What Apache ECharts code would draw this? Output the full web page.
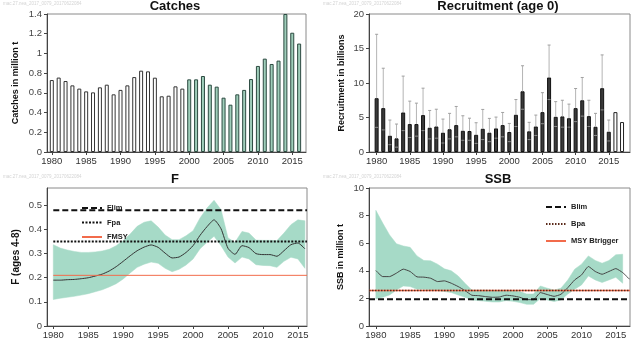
<!DOCTYPE html>
<html>
<head>
<meta charset="utf-8">
<script src="https://cdn.jsdelivr.net/npm/echarts@6/dist/echarts.min.js"></script>
<style>
  html, body { margin: 0; padding: 0; background: #fff; }
  #chart { width: 643px; height: 348px; }
</style>
</head>
<body>
<div id="chart"></div>
<script>
// ---- Stock summary data (NEA mackerel) ----
const FIRST_YEAR = 1980;

// Catches, million t, 1980-2016
const catches = [0.73, 0.755, 0.72, 0.676, 0.643, 0.615, 0.605, 0.656, 0.683, 0.585,
                 0.63, 0.676, 0.76, 0.825, 0.818, 0.754, 0.565, 0.571, 0.666, 0.643,
                 0.737, 0.737, 0.771, 0.683, 0.663, 0.551, 0.48, 0.585, 0.63, 0.74,
                 0.873, 0.947, 0.893, 0.927, 1.40, 1.21, 1.10];
const CATCH_HIGHLIGHT_FROM = 2000;

// Recruitment (age 0), billions, 1980-2017; last two years are assumed values
const recruitment = [7.8, 6.36, 2.36, 1.98, 5.73, 4.05, 4.05, 5.35, 3.52, 3.7,
                     2.8, 3.3, 3.9, 3.08, 3.04, 2.5, 3.37, 2.8, 3.42, 3.9,
                     2.9, 5.4, 8.8, 3.0, 3.7, 5.78, 10.8, 5.1, 5.16, 4.9,
                     6.36, 7.5, 5.2, 3.66, 9.25, 2.94, 5.78, 4.34];
const recruitmentHigh = [17.06, 12.14, 4.63, 4.05, 11.0, 7.37, 7.08, 9.25, 6.02, 6.2,
                         4.77, 5.6, 6.6, 5.25, 4.9, 4.24, 6.17, 4.87, 5.06, 5.73,
                         4.14, 7.6, 12.5, 4.3, 5.35, 8.6, 15.5, 7.3, 7.5, 6.94,
                         9.2, 10.8, 7.5, 5.6, 14.07, 4.63];
const recruitmentLow = [3.57, 3.2, 1.06, 0.7, 3.1, 2.1, 2.3, 3.1, 1.9, 2.0,
                        1.3, 1.9, 2.2, 1.7, 1.7, 1.25, 1.8, 1.5, 2.0, 2.2,
                        1.5, 3.7, 6.2, 1.8, 2.4, 4.1, 7.6, 3.7, 3.6, 3.6,
                        4.4, 5.2, 3.7, 2.4, 6.1, 1.6];
const RECRUIT_ASSUMED_FROM = 2016;

// Fishing mortality (ages 4-8), 1980-2016
const fishingMortality = [0.19, 0.19, 0.192, 0.193, 0.196, 0.2, 0.207, 0.215, 0.228, 0.246,
                          0.268, 0.291, 0.312, 0.327, 0.336, 0.326, 0.302, 0.282, 0.286, 0.305,
                          0.333, 0.376, 0.412, 0.44, 0.403, 0.322, 0.297, 0.333, 0.325, 0.3,
                          0.296, 0.296, 0.289, 0.312, 0.337, 0.344, 0.32];
const fishingMortalityHigh = [0.337, 0.323, 0.315, 0.309, 0.305, 0.305, 0.307, 0.311, 0.318, 0.333,
                              0.354, 0.381, 0.413, 0.43, 0.436, 0.41, 0.377, 0.358, 0.358, 0.374,
                              0.395, 0.448, 0.489, 0.521, 0.482, 0.365, 0.347, 0.392, 0.385, 0.356,
                              0.355, 0.355, 0.354, 0.385, 0.42, 0.44, 0.436];
const fishingMortalityLow = [0.11, 0.115, 0.119, 0.123, 0.128, 0.134, 0.142, 0.15, 0.162, 0.175,
                             0.195, 0.22, 0.243, 0.256, 0.265, 0.26, 0.239, 0.225, 0.235, 0.253,
                             0.278, 0.32, 0.347, 0.372, 0.333, 0.286, 0.261, 0.286, 0.278, 0.254,
                             0.251, 0.25, 0.243, 0.268, 0.285, 0.278, 0.239];

// Spawning stock biomass, million t, 1980-2017 (interval to 2016)
const ssb = [4.02, 3.58, 3.58, 3.83, 4.12, 3.95, 3.56, 3.54, 3.46, 3.22,
             3.27, 3.1, 2.86, 2.57, 2.23, 2.2, 2.13, 2.08, 2.1, 2.23,
             2.18, 2.08, 1.91, 1.91, 2.42, 2.28, 2.15, 2.3, 2.78, 3.34,
             3.7, 4.31, 3.95, 3.75, 3.95, 4.16, 3.87, 3.39];
const ssbHigh = [8.38, 7.46, 6.6, 5.96, 5.8, 5.7, 5.08, 4.75, 4.72, 4.48,
                 4.14, 4.0, 3.63, 3.1, 2.6, 2.6, 2.6, 2.57, 2.57, 2.6,
                 2.57, 2.5, 2.32, 2.32, 2.9, 2.74, 2.6, 2.74, 3.34, 4.12,
                 4.48, 5.08, 4.75, 4.55, 4.75, 5.16, 5.2];
const ssbLow = [1.96, 2.08, 2.25, 2.6, 2.9, 2.86, 2.66, 2.66, 2.6, 2.57,
                2.5, 2.42, 2.25, 2.08, 1.89, 1.84, 1.79, 1.74, 1.74, 1.84,
                1.79, 1.7, 1.57, 1.57, 2.0, 1.89, 1.77, 1.89, 2.32, 2.66,
                2.98, 3.63, 3.34, 3.15, 3.34, 3.53, 3.1];

// Reference points
const F_LIM = 0.48, F_PA = 0.35, F_MSY = 0.21;
const B_LIM = 1.94, B_PA = 2.57, MSY_BTRIGGER = 2.57;

// Axis extents (years)
const X_RANGE = {
  catches: [1979.3, 2017.0],
  recruit: [1978.85, 2018.2],
  f: [1979.1, 2016.3],
  ssb: [1979.0, 2017.07]
};

// ---- helpers ----
const FONT = 'Liberation Sans, Arial, sans-serif';
const BAND = '#a6dac7';
const RED = '#f26b4b';
const yearsOf = (arr) => arr.map((v, i) => [FIRST_YEAR + i, v]);

function xAxis(gridIndex, range) {
  return {
    type: 'value', gridIndex, min: range[0], max: range[1],
    minInterval: 5, maxInterval: 5,
    axisLine: { show: true, onZero: false, lineStyle: { color: '#444', width: 1 } },
    axisTick: { show: true, length: 3, lineStyle: { color: '#444' } },
    axisLabel: {
      show: true, margin: 4, color: '#333', fontSize: 9.5, fontFamily: FONT,
      showMinLabel: false, showMaxLabel: false,
      formatter: (v) => (Math.abs(v % 5) < 1e-6 ? String(v) : '')
    },
    splitLine: { show: false }
  };
}
function yAxis(gridIndex, max, interval, name, nameGap) {
  return {
    type: 'value', gridIndex, min: 0, max, interval,
    name, nameLocation: 'middle', nameGap,
    nameTextStyle: { fontSize: 9, fontWeight: 'bold', color: '#111', fontFamily: FONT },
    axisLine: { show: true, lineStyle: { color: '#444', width: 1 } },
    axisTick: { show: true, length: 3, lineStyle: { color: '#444' } },
    axisLabel: {
      show: true, margin: 5, color: '#444', fontSize: 9.5, fontFamily: FONT, showMaxLabel: true,
      formatter: (v) => (Math.abs(v / interval - Math.round(v / interval)) < 1e-6 ? String(+v.toFixed(2)) : '')
    },
    splitLine: { show: false }
  };
}
function refLine(name, xi, y, x0, x1, color, type, width, z) {
  return {
    name, type: 'line', xAxisIndex: xi, yAxisIndex: xi,
    data: [[x0, y], [x1, y]], symbol: 'none', silent: true, z,
    itemStyle: { color },
    lineStyle: { color, type, width }
  };
}
// Confidence band: one polygon through the upper bounds and back along the lower bounds
function bandSeries(xi, hi, lo) {
  return {
    type: 'custom', xAxisIndex: xi, yAxisIndex: xi, silent: true, z: 1,
    data: hi.map((h, i) => [FIRST_YEAR + i, lo[i], h]),
    encode: { x: 0, y: [1, 2] },
    renderItem: (params, api) => {
      if (params.dataIndex !== 0) return null;
      const upper = hi.map((h, i) => api.coord([FIRST_YEAR + i, h]));
      const lower = lo.map((l, i) => api.coord([FIRST_YEAR + i, l])).reverse();
      return {
        type: 'polygon',
        shape: { points: upper.concat(lower) },
        style: { fill: BAND, stroke: BAND, lineWidth: 0.5 }
      };
    }
  };
}

const gridBox = (left, top, width, height) => ({
  left, top, width, height, show: true, borderColor: '#8a8a8a', borderWidth: 1,
  backgroundColor: 'transparent', containLabel: false, outerBoundsMode: 'none'
});

const legendText = { fontSize: 7.5, fontWeight: 'bold', color: '#222', fontFamily: FONT };
const legendBase = {
  orient: 'vertical', itemWidth: 20, itemHeight: 10, selectedMode: false,
  itemStyle: { opacity: 0, color: 'transparent', borderWidth: 0 },
  textStyle: legendText
};
const titleText = (x, y, text) => ({
  type: 'text', x, y,
  style: { text, fill: '#111', font: 'bold 13px ' + FONT, textAlign: 'center', textVerticalAlign: 'middle' }
});
const stampText = (x, y) => ({
  type: 'text', x, y,
  style: { text: 'mac.27.nea_2017_0079_20170622084', fill: '#d4d4d4', font: '4.5px ' + FONT, textVerticalAlign: 'middle' }
});

const catchData = yearsOf(catches);
const recruitData = yearsOf(recruitment);

const option = {
  animation: false,
  backgroundColor: '#fff',
  grid: [
    gridBox(47, 14, 259, 138),
    gridBox(369, 14, 261, 138),
    gridBox(47, 188, 260, 138),
    gridBox(369, 188, 261, 138)
  ],
  xAxis: [
    xAxis(0, X_RANGE.catches),
    xAxis(1, X_RANGE.recruit),
    xAxis(2, X_RANGE.f),
    xAxis(3, X_RANGE.ssb)
  ],
  yAxis: [
    yAxis(0, 1.4, 0.2, 'Catches in million t', 27),
    yAxis(1, 20, 5, 'Recruitment in billions', 23),
    (() => { const a = yAxis(2, 0.572, 0.1, 'F (ages 4-8)', 26); a.axisLabel.showMaxLabel = false; a.nameTextStyle.fontSize = 10; return a; })(),
    yAxis(3, 10, 2, 'SSB in million t', 24)
  ],
  legend: [
    Object.assign({}, legendBase, { data: ['Flim', 'Fpa', 'FMSY'], left: 76, top: 199, itemGap: 6.5 }),
    Object.assign({}, legendBase, { data: ['Blim', 'Bpa', 'MSY Btrigger'], left: 540, top: 198, itemGap: 9 })
  ],
  graphic: [
    titleText(175, 6, 'Catches'),
    titleText(498, 6, 'Recruitment (age 0)'),
    titleText(175, 179, 'F'),
    titleText(498, 179, 'SSB'),
    stampText(3, 4), stampText(323, 4), stampText(3, 177), stampText(323, 177)
  ],
  series: [
    // Catches
    { type: 'bar', xAxisIndex: 0, yAxisIndex: 0, barWidth: 4, barGap: '-100%',
      data: catchData.filter(d => d[0] < CATCH_HIGHLIGHT_FROM),
      itemStyle: { color: '#fff', borderColor: '#333', borderWidth: 1 } },
    { type: 'bar', xAxisIndex: 0, yAxisIndex: 0, barWidth: 4, barGap: '-100%',
      data: catchData.filter(d => d[0] >= CATCH_HIGHLIGHT_FROM),
      itemStyle: { color: '#9fceba', borderColor: '#2c4a40', borderWidth: 1 } },

    // Recruitment
    { type: 'bar', xAxisIndex: 1, yAxisIndex: 1, barWidth: 4, barGap: '-100%',
      data: recruitData.filter(d => d[0] < RECRUIT_ASSUMED_FROM),
      itemStyle: { color: '#3a3a3a', borderColor: '#111', borderWidth: 1 } },
    { type: 'bar', xAxisIndex: 1, yAxisIndex: 1, barWidth: 4, barGap: '-100%',
      data: recruitData.filter(d => d[0] >= RECRUIT_ASSUMED_FROM),
      itemStyle: { color: '#fff', borderColor: '#222', borderWidth: 1 } },
    { type: 'custom', xAxisIndex: 1, yAxisIndex: 1, z: 5, silent: true,
      data: recruitmentHigh.map((h, i) => [FIRST_YEAR + i, recruitmentLow[i], h, recruitment[i]]),
      encode: { x: 0, y: [1, 2, 3] },
      renderItem: (params, api) => {
        const x = api.value(0);
        const lo = api.coord([x, api.value(1)]);
        const hi = api.coord([x, api.value(2)]);
        const mid = api.coord([x, api.value(3)]);
        return {
          type: 'group',
          children: [
            { type: 'line', shape: { x1: hi[0], y1: hi[1], x2: mid[0], y2: mid[1] },
              style: { stroke: '#b4b4b4', lineWidth: 1 } },
            { type: 'line', shape: { x1: hi[0] - 1.5, y1: hi[1], x2: hi[0] + 1.5, y2: hi[1] },
              style: { stroke: '#a0a0a0', lineWidth: 1 } },
            { type: 'line', shape: { x1: lo[0] - 1.5, y1: lo[1], x2: lo[0] + 1.5, y2: lo[1] },
              style: { stroke: '#8c8c8c', lineWidth: 1 } }
          ]
        };
      } },

    // F
    bandSeries(2, fishingMortalityHigh, fishingMortalityLow),
    { type: 'line', xAxisIndex: 2, yAxisIndex: 2, data: yearsOf(fishingMortality),
      symbol: 'none', smooth: 0.2, silent: true, z: 4, lineStyle: { color: '#333', width: 1 } },
    refLine('Flim', 2, F_LIM, FIRST_YEAR, X_RANGE.f[1], '#111', [6, 3], 2, 5),
    refLine('Fpa', 2, F_PA, FIRST_YEAR, X_RANGE.f[1], '#111', [2, 1.5], 2, 5),
    refLine('FMSY', 2, F_MSY, FIRST_YEAR, X_RANGE.f[1], RED, 'solid', 1, 5),

    // SSB
    bandSeries(3, ssbHigh, ssbLow),
    { type: 'line', xAxisIndex: 3, yAxisIndex: 3, data: yearsOf(ssb),
      symbol: 'none', smooth: 0.15, silent: true, z: 4, lineStyle: { color: '#444', width: 1 } },
    refLine('Blim', 3, B_LIM, X_RANGE.ssb[0], X_RANGE.ssb[1], '#111', [6, 3], 2, 5),
    refLine('MSY Btrigger', 3, MSY_BTRIGGER, X_RANGE.ssb[0], X_RANGE.ssb[1], RED, 'solid', 1.5, 5),
    refLine('Bpa', 3, B_PA, X_RANGE.ssb[0], X_RANGE.ssb[1], '#5a2a1a', [1.5, 1.5], 1.5, 6)
  ]
};

const chart = echarts.init(document.getElementById('chart'), null, { renderer: 'canvas' });
chart.setOption(option);
</script>
</body>
</html>
